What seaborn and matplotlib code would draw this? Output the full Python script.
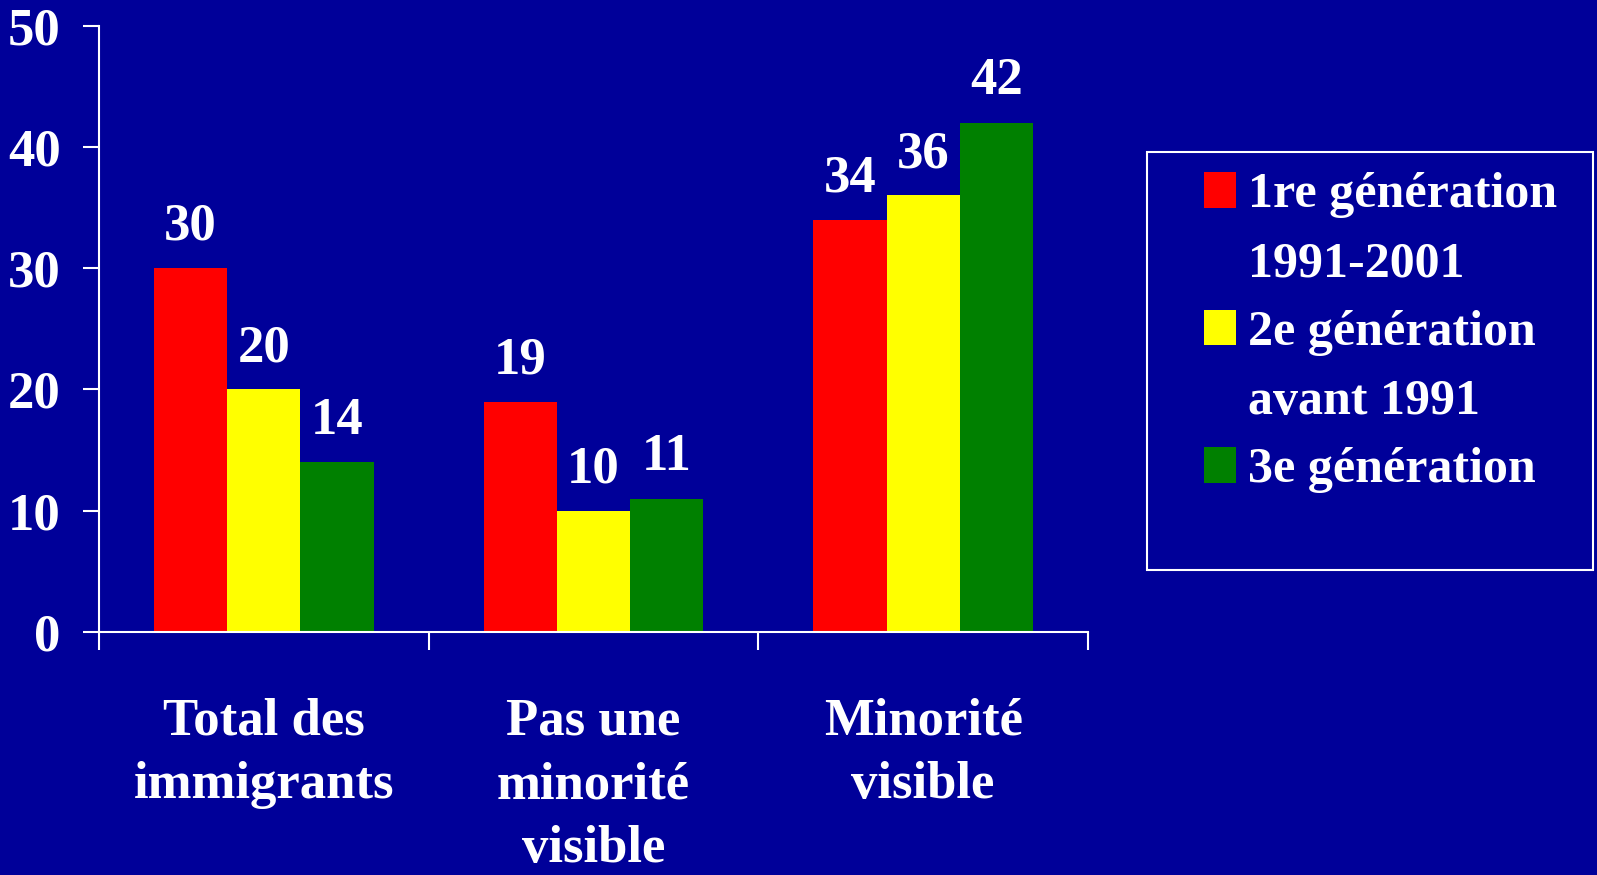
import matplotlib
matplotlib.use("Agg")
import matplotlib.pyplot as plt
import pandas as pd
import seaborn as sns
from matplotlib.patches import Patch, Rectangle
from matplotlib.ticker import FixedLocator

# données
categories = ["Total des\nimmigrants", "Pas une\nminorité\nvisible", "Minorité\nvisible"]
series = ["1re génération\n1991-2001", "2e génération\navant 1991", "3e génération"]
gen1 = [30, 19, 34]
gen2 = [20, 10, 36]
gen3 = [14, 11, 42]
y_ticks = [0, 10, 20, 30, 40, 50]

BG = "#000099"
colors = ["#ff0000", "#ffff00", "#008000"]

W, H = 1597, 875
FS = 38      # texte principal
FS_LEG = 36  # légende

sns.set_style("ticks")
plt.rcParams["font.family"] = ["Liberation Serif", "DejaVu Serif"]
plt.rcParams["font.weight"] = "bold"

df = pd.DataFrame(
    {
        "categorie": categories * 3,
        "generation": [s for s in series for _ in categories],
        "valeur": gen1 + gen2 + gen3,
    }
)

fig = plt.figure(figsize=(W / 100, H / 100), dpi=100, facecolor=BG)
ax = fig.add_axes([99 / W, 1 - 632 / H, (1088 - 99) / W, (632 - 25.7) / H])
ax.set_facecolor(BG)

sns.barplot(
    data=df,
    x="categorie",
    y="valeur",
    hue="generation",
    order=categories,
    hue_order=series,
    palette=colors,
    width=0.667,
    gap=0,
    saturation=1,
    errorbar=None,
    linewidth=0,
    legend=False,
    ax=ax,
)

for cont in ax.containers:
    ax.bar_label(cont, padding=12.5, color="white", fontsize=FS, fontweight="bold")

ax.set_xlim(-0.5, 2.5)
ax.set_ylim(0, 50)
ax.set_yticks(y_ticks)
ax.set_xlabel("")
ax.set_ylabel("")

for side in ["top", "right"]:
    ax.spines[side].set_visible(False)
for side in ["left", "bottom"]:
    ax.spines[side].set_color("white")
    ax.spines[side].set_linewidth(1.5)

ax.tick_params(axis="y", colors="white", labelcolor="white", length=11.5, width=1.5,
               pad=16, labelsize=FS)
ax.tick_params(axis="x", which="major", length=0, pad=47, labelsize=FS, labelcolor="white")
ax.xaxis.set_minor_locator(FixedLocator([-0.5, 0.5, 1.5, 2.5]))
ax.tick_params(axis="x", which="minor", length=13, width=1.5, color="white")
for lab in ax.get_xticklabels():
    lab.set_linespacing(1.43)

# légende : une entrée par ligne, le carré seulement sur la première
handles, labels = [], []
for s, c in zip(series, colors):
    for i, line in enumerate(s.split("\n")):
        if i == 0:
            handles.append(Patch(facecolor=c, edgecolor="none"))
        else:
            handles.append(Patch(facecolor="none", edgecolor="none"))
        labels.append(line)

ax.legend(
    handles,
    labels,
    loc="upper left",
    bbox_to_anchor=(1204 / W, 1 - 172 / H),
    bbox_transform=fig.transFigure,
    frameon=False,
    borderpad=0,
    borderaxespad=0,
    fontsize=FS_LEG,
    labelcolor="white",
    handlelength=0.64,
    handleheight=0.72,
    handletextpad=0.24,
    labelspacing=0.45,
)

fig.add_artist(
    Rectangle(
        (1147 / W, 1 - 570 / H),
        (1593 - 1147) / W,
        (570 - 152) / H,
        transform=fig.transFigure,
        fill=False,
        edgecolor="white",
        linewidth=1.5,
    )
)

fig.savefig("out.png", dpi=100, facecolor=BG)
